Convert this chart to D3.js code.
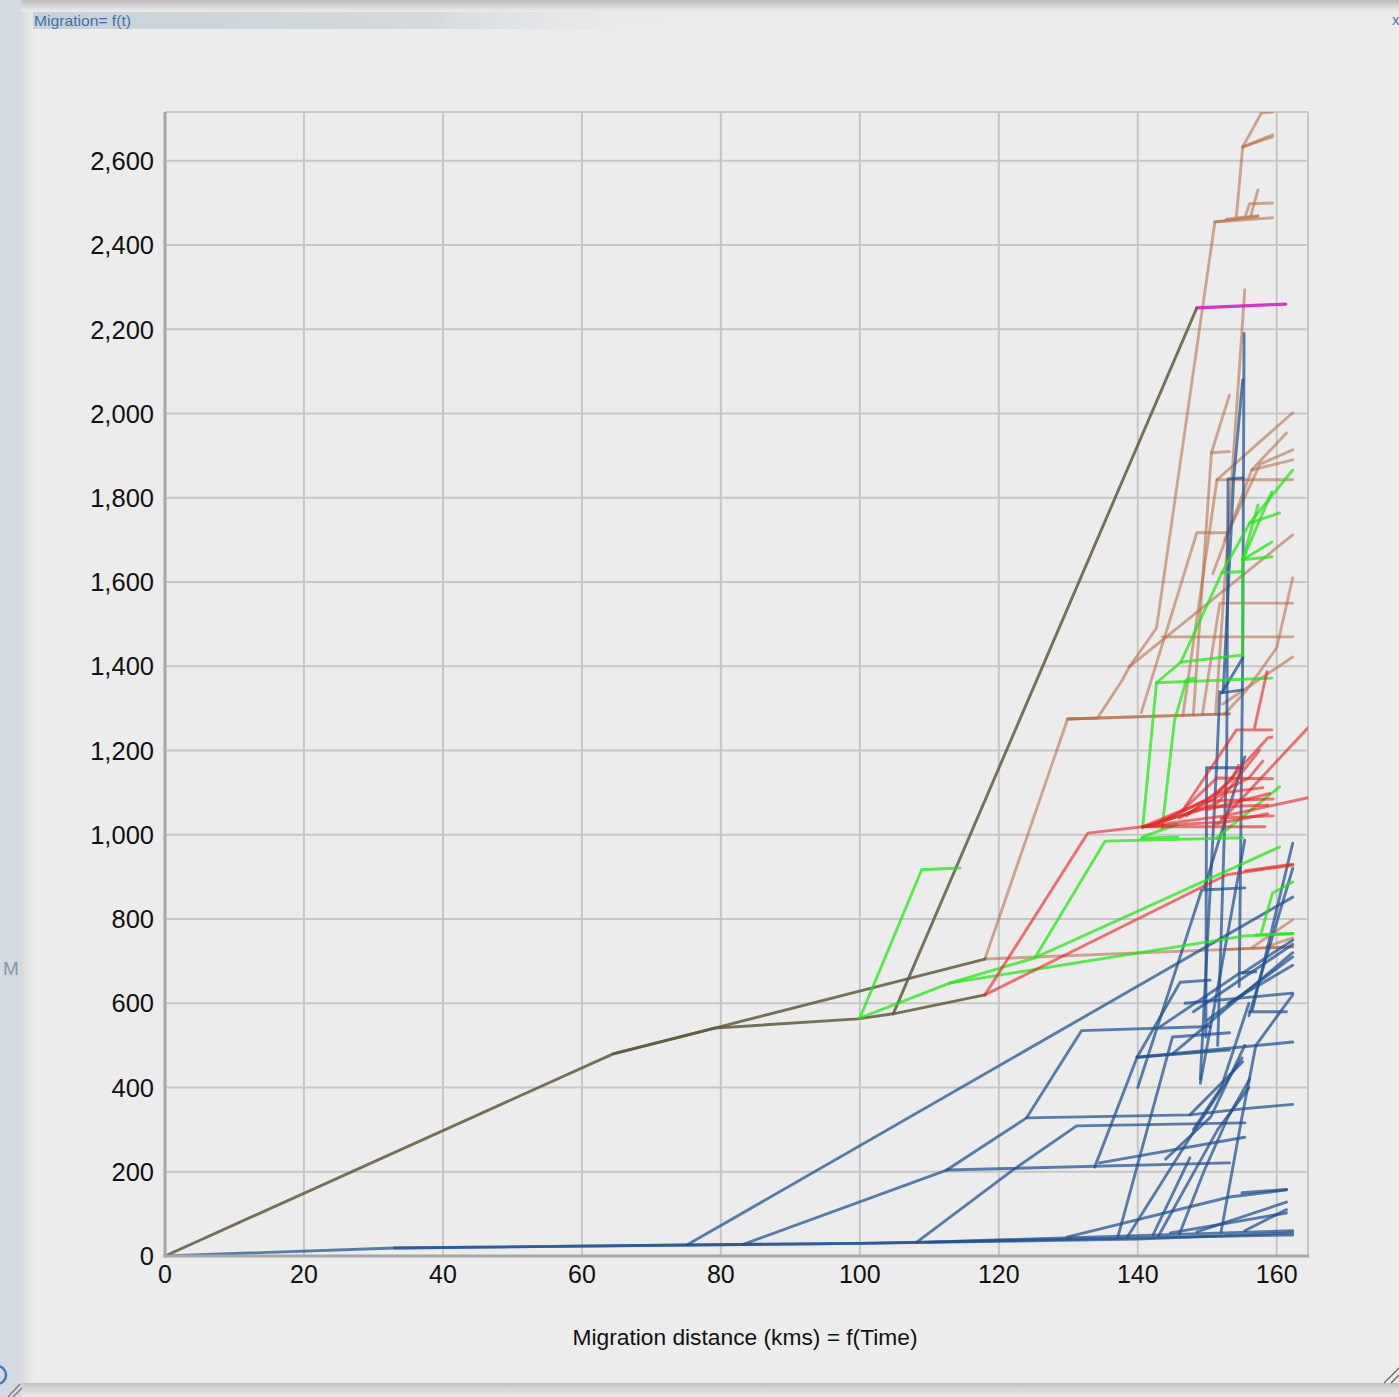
<!DOCTYPE html>
<html><head><meta charset="utf-8">
<script src="https://cdn.jsdelivr.net/npm/d3@7/dist/d3.min.js"></script>
<style>html,body{margin:0;padding:0;background:#ececec;overflow:hidden}</style>
</head><body>
<svg id="c" width="1399" height="1397"></svg>
<script>
// ---------------- DATA ----------------
const chartTitle = "Migration= f(t)";
const xAxisTitle = "Migration distance (kms) = f(Time)";
const xTicks = [0, 20, 40, 60, 80, 100, 120, 140, 160];
const yTicks = [0, 200, 400, 600, 800, 1000, 1200, 1400, 1600, 1800, 2000, 2200, 2400, 2600];
const xDomain = [0, 164.5];
const yDomain = [0, 2716];

const oliveLines = [
  [[0,0],[64.5,480],[79.1,541],[118,705]],
  [[64.5,480],[79.1,541],[99.7,563],[104.8,575],[118,620]],
  [[104.8,575],[148.5,2251]]
];
const magentaLines = [
  [[148.5,2251],[161.3,2260]]
];
const tanLines = [
  [[118,705],[162.3,734]],
  [[153,728],[162.3,734]],
  [[118,705],[129.9,1275],[153.2,1287]],
  [[129.9,1275],[153.2,1287]],
  [[129.9,1275],[134.2,1277],[137.8,1368],[138.8,1399],[142.7,1491],[151.1,2455],[159.4,2465]],
  [[151.1,2455],[157.3,2468]],
  [[152.8,2462],[157.3,2470]],
  [[154.2,2468],[155.1,2633],[159.4,2657]],
  [[155.1,2633],[159.4,2662]],
  [[155.1,2633],[157.8,2714],[159.4,2716]],
  [[155.5,2470],[156.1,2498],[159.4,2500]],
  [[156.3,2472],[157.3,2531]],
  [[138.8,1399],[162.3,1712]],
  [[146.5,1284],[151.4,1843],[162.3,2002]],
  [[151.4,1843],[162.3,1843]],
  [[148,1285],[150.6,1907],[153.2,2044]],
  [[150.6,1907],[153.2,1910]],
  [[149.3,1286],[151.8,1550],[162.3,1550]],
  [[151.2,1286],[155.4,2294]],
  [[152.5,1287],[155.5,1340],[160.0,1444],[162.3,1610]],
  [[152.2,1310],[162.3,1422]],
  [[143.5,1470],[162.3,1470]],
  [[150.8,1620],[156.4,1866],[161.4,1954]],
  [[156.4,1866],[162.3,1890]],
  [[152.5,1700],[157.6,1880],[162.3,1914]],
  [[140.5,1290],[148.5,1717],[153.2,1717]],
  [[156.5,733],[162.3,798]],
  [[158.6,735],[162.3,755]]
];
const greenLines = [
  [[100,565],[108.9,917],[114.4,921]],
  [[100,565],[112.9,648],[125.2,708],[135.3,985],[155.1,993]],
  [[140.5,992],[145.8,995]],
  [[125.2,708],[160.4,971]],
  [[112.9,648],[155.4,760],[162.3,765]],
  [[157,762],[162.3,766]],
  [[157.8,769],[159.4,862],[162.3,888]],
  [[140.7,1016],[142.7,1361],[159.3,1372]],
  [[142.7,1361],[146.2,1410],[155.1,1427]],
  [[146.2,1410],[152.1,1622],[156.1,1740],[160.4,1764]],
  [[156.1,1740],[162.3,1866]],
  [[152.1,1622],[155.1,1625]],
  [[155.1,1427],[155.1,1653]],
  [[155.1,1653],[159.3,1814]],
  [[155.1,1653],[157.3,1783]],
  [[155.1,1653],[159.3,1695]],
  [[155.1,1653],[159.3,1660]],
  [[143.5,1016],[145.3,1273],[147,1368],[148.2,1372]],
  [[151.4,993],[160.4,1114]],
  [[140.7,995],[145.6,1024]]
];
const redLines = [
  [[118,620],[132.8,1004],[140.7,1019]],
  [[118,620],[152.8,905],[162.3,928]],
  [[155.5,915],[162.3,930]],
  [[140.7,1019],[146.5,1059],[151.4,1135],[159.4,1133]],
  [[140.7,1019],[158.3,1019]],
  [[140.7,1019],[151.8,1030],[164.5,1254]],
  [[140.7,1019],[152.5,1045],[164.5,1088]],
  [[146.5,1059],[154.2,1249],[159.3,1249]],
  [[156.8,1254],[158.6,1387]],
  [[151.5,1099],[158.7,1230],[159.3,1232]],
  [[140.7,1019],[150.5,1066],[158.7,1070]],
  [[143,1030],[149.5,1080],[159.5,1085]],
  [[146,1040],[152.5,1100],[158,1112]],
  [[147,1045],[153.5,1130],[154.5,1165]],
  [[150,1060],[159,1098]],
  [[151,1025],[158.7,1050]],
  [[141.5,1020],[151.5,1075],[157.5,1200]],
  [[152,1040],[159.5,1045]],
  [[144,1035],[156,1135],[158,1175]]
];
const blueLines = [
  [[0,0],[33,19],[75.1,26],[100,30],[120,35],[140,40],[162.3,55]],
  [[33,19],[100,30],[162.3,50]],
  [[110,33],[162.3,60]],
  [[75.1,26],[162.3,852]],
  [[83.3,28],[112.5,204],[153.2,221]],
  [[112.5,204],[124,328],[131.9,535],[150.4,545]],
  [[124,328],[147.5,335],[155.1,461]],
  [[108.2,33],[122,204],[131.2,309],[155.4,316]],
  [[133.8,211],[139.9,472],[153.2,489]],
  [[139.9,472],[162.3,508]],
  [[137.1,43],[145,520],[153.2,530]],
  [[142.2,50],[147.5,233]],
  [[129.8,45],[153.2,140],[161.4,157]],
  [[155,150],[161.4,158]],
  [[144.7,55],[161.4,102]],
  [[148.5,57],[161.4,128]],
  [[155.4,60],[161.4,110]],
  [[147.5,335],[155.4,350],[162.3,360]],
  [[134.5,221],[155.4,282]],
  [[139.9,472],[146.1,650],[150.4,655]],
  [[146.8,600],[162.3,624]],
  [[140,400],[149.2,869],[155.4,874]],
  [[149,410],[155.4,987]],
  [[156.5,584],[162.3,980]],
  [[156,570],[162.3,920]],
  [[155.1,672],[162.3,750]],
  [[143.2,544],[154.7,672],[157,675]],
  [[148,580],[162.3,740]],
  [[150,560],[162.3,710]],
  [[153,600],[162.3,690]],
  [[145,480],[162.3,720]],
  [[156.1,580],[161.4,580]],
  [[138.5,45],[149,320],[155,470]],
  [[143,48],[151.5,300],[156,400]],
  [[146,52],[149.5,200],[153,330],[156.1,420]],
  [[152,58],[155,330],[157,500],[162.3,620]],
  [[148,300],[152,400],[156,600]],
  [[144,230],[150.5,330],[155.4,500]],
  [[149.8,520],[149.9,1159],[155.1,1159]],
  [[149,420],[151.4,1180],[151.8,1340]],
  [[151.5,500],[152.8,1180],[153,1845],[155.1,1847]],
  [[154.6,640],[155.1,1420],[155.3,2190]],
  [[152.1,1337],[155.1,1420]],
  [[152.1,1337],[155.1,1344]],
  [[152.3,1340],[153.8,1845],[155.1,2080]],
  [[149.6,875],[155.4,1185]]
];

// ---------------- LAYOUT ----------------
const W = 1399, H = 1397;
const plot = {left:165, right:1308, top:112, bottom:1256};
const FONT = "'Liberation Sans', Arial, Helvetica, sans-serif";

const svg = d3.select('#c');
const defs = svg.append('defs');

function lin(id, x1,y1,x2,y2, stops){
  const g = defs.append('linearGradient').attr('id',id)
    .attr('x1',x1).attr('y1',y1).attr('x2',x2).attr('y2',y2);
  stops.forEach(s=>g.append('stop').attr('offset',s[0]).attr('stop-color',s[1]).attr('stop-opacity', s[2]===undefined?1:s[2]));
}
lin('gTop','0','0','0','1',[[0,'#bdbdbd'],[0.5,'#d6d6d6'],[1,'#ececec']]);
lin('gLeft','0','0','1','0',[[0,'#d9d9d9'],[1,'#ebebeb']]);
lin('gTitle','0','0','1','0',[[0,'#c6d1d9'],[0.6,'#d3dade'],[1,'#ececec',0]]);
lin('gBot','0','0','0','1',[[0,'#bfbfbf'],[0.35,'#d5d5d5'],[1,'#e6e6e6']]);

svg.append('rect').attr('width',W).attr('height',H).attr('fill','#ececec');
svg.append('rect').attr('x',0).attr('y',0).attr('width',21).attr('height',H).attr('fill','#d3dae1');
svg.append('rect').attr('x',21).attr('y',0).attr('width',12).attr('height',H).attr('fill','url(#gLeft)');
svg.append('rect').attr('x',21).attr('y',0).attr('width',W-21).attr('height',12).attr('fill','url(#gTop)');
svg.append('rect').attr('x',33).attr('y',12).attr('width',670).attr('height',17).attr('fill','url(#gTitle)');
svg.append('rect').attr('x',21).attr('y',1383).attr('width',W-21).attr('height',14).attr('fill','url(#gBot)');

svg.append('text').attr('x',34).attr('y',26).attr('font-family',FONT).attr('font-size',15)
  .attr('fill','#3f71a8').attr('textLength',97).attr('lengthAdjust','spacingAndGlyphs').text(chartTitle);
svg.append('text').attr('x',1392).attr('y',25).attr('font-family',FONT).attr('font-size',15)
  .attr('fill','#4a7ab0').text('x');
svg.append('text').attr('x',3).attr('y',975).attr('font-family',FONT).attr('font-size',19)
  .attr('fill','#8796ab').text('M');
// corner glyphs
svg.append('circle').attr('cx',-3).attr('cy',1375).attr('r',9).attr('fill','none').attr('stroke','#3d7cc4').attr('stroke-width',2.5);
[[8,1397,20,1384],[13,1397,22,1388]].forEach(l=>svg.append('line').attr('x1',l[0]).attr('y1',l[1]).attr('x2',l[2]).attr('y2',l[3]).attr('stroke','#777').attr('stroke-width',1.3));
[[1384,1383,1399,1368],[1391,1383,1399,1375]].forEach(l=>svg.append('line').attr('x1',l[0]).attr('y1',l[1]).attr('x2',l[2]).attr('y2',l[3]).attr('stroke','#666').attr('stroke-width',1.3));

// ---------------- SCALES ----------------
const x = d3.scaleLinear().domain(xDomain).range([plot.left, plot.right]);
const y = d3.scaleLinear().domain(yDomain).range([plot.bottom, plot.top]);

// grid
const grid = svg.append('g');
grid.selectAll('.vx').data(xTicks.filter(d=>d>0)).join('line')
  .attr('x1',d=>x(d)).attr('x2',d=>x(d)).attr('y1',plot.top).attr('y2',plot.bottom)
  .attr('stroke','#c6c6c6').attr('stroke-width',2);
grid.selectAll('.hy').data(yTicks.filter(d=>d>0)).join('line')
  .attr('y1',d=>y(d)).attr('y2',d=>y(d)).attr('x1',plot.left).attr('x2',plot.right)
  .attr('stroke','#c6c6c6').attr('stroke-width',2);
// frame
grid.append('line').attr('x1',plot.left).attr('x2',plot.right).attr('y1',plot.top).attr('y2',plot.top).attr('stroke','#c6c6c6').attr('stroke-width',2);
grid.append('line').attr('x1',plot.right).attr('x2',plot.right).attr('y1',plot.top).attr('y2',plot.bottom).attr('stroke','#c6c6c6').attr('stroke-width',2);

// data lines
defs.append('clipPath').attr('id','clip').append('rect')
  .attr('x',plot.left).attr('y',plot.top).attr('width',plot.right-plot.left).attr('height',plot.bottom-plot.top);
const line = d3.line().x(d=>x(d[0])).y(d=>y(d[1]));
const groups = [
  {lines: tanLines, color:'#b5683f', op:0.55, w:2.9},
  {lines: oliveLines, color:'#625b3c', op:0.85, w:2.9},
  {lines: blueLines, color:'#1f5190', op:0.72, w:2.9},
  {lines: greenLines, color:'#1fe80f', op:0.72, w:2.9},
  {lines: redLines, color:'#e8201f', op:0.6, w:2.9},
  {lines: magentaLines, color:'#d81fc8', op:0.9, w:3.2}
];
const data = svg.append('g').attr('clip-path','url(#clip)');
groups.forEach(g=>{
  data.append('g').selectAll('path').data(g.lines).join('path')
    .attr('d',line).attr('fill','none').attr('stroke',g.color)
    .attr('stroke-opacity',g.op).attr('stroke-width',g.w)
    .attr('stroke-linejoin','round').attr('stroke-linecap','round');
});

// axes lines
svg.append('line').attr('x1',plot.left).attr('x2',plot.left).attr('y1',plot.top).attr('y2',plot.bottom+1.5).attr('stroke','#a6a6a6').attr('stroke-width',3);
svg.append('line').attr('x1',plot.left-1.5).attr('x2',plot.right+1).attr('y1',plot.bottom).attr('y2',plot.bottom).attr('stroke','#a6a6a6').attr('stroke-width',3);

// tick labels
const fmt = d3.format(',');
svg.append('g').selectAll('text').data(yTicks).join('text')
  .attr('x',154).attr('y',d=>y(d)).attr('dy','0.36em').attr('text-anchor','end')
  .attr('font-family',FONT).attr('font-size',25.5).attr('fill','#111').text(d=>fmt(d));
svg.append('g').selectAll('text').data(xTicks).join('text')
  .attr('x',d=>x(d)).attr('y',1283).attr('text-anchor','middle')
  .attr('font-family',FONT).attr('font-size',25).attr('fill','#111').text(d=>fmt(d));
svg.append('text').attr('x',745).attr('y',1345).attr('text-anchor','middle')
  .attr('font-family',FONT).attr('font-size',22).attr('fill','#111')
  .attr('textLength',345).attr('lengthAdjust','spacingAndGlyphs').text(xAxisTitle);
</script>
</body></html>
